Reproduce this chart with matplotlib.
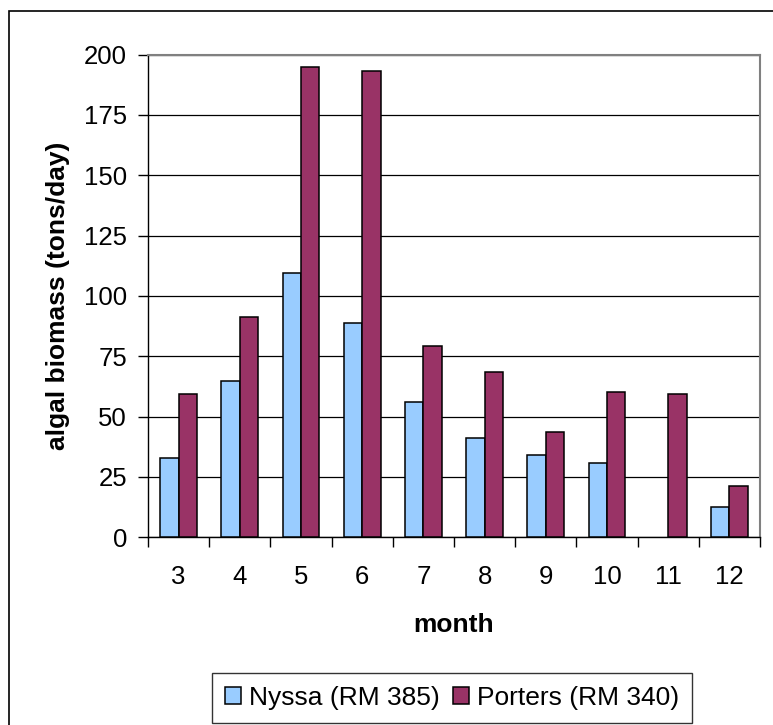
import matplotlib
matplotlib.use("Agg")
import matplotlib.pyplot as plt
import numpy as np
from matplotlib.patches import Rectangle
from matplotlib.ticker import FixedLocator, NullFormatter

plt.rcParams['font.family'] = ['Liberation Sans', 'DejaVu Sans']

months = ["3", "4", "5", "6", "7", "8", "9", "10", "11", "12"]
nyssa = [32.7, 64.7, 109.5, 88.8, 56.0, 41.0, 34.2, 30.8, None, 12.6]
porters = [59.5, 91.3, 194.7, 193.0, 79.2, 68.5, 43.7, 60.0, 59.3, 21.3]
series_names = ["Nyssa (RM 385)", "Porters (RM 340)"]
yticks = [0, 25, 50, 75, 100, 125, 150, 175, 200]

W, H = 773, 725
fig = plt.figure(figsize=(W / 100, H / 100), dpi=100)
fig.patch.set_facecolor("white")

left, right, top, bottom = 148, 760, 54.5, 537.3
ax = fig.add_axes([left / W, 1 - bottom / H, (right - left) / W, (bottom - top) / H])

x = np.arange(len(months))
nyssa_vals = np.array([np.nan if v is None else v for v in nyssa], dtype=float)
bw = 0.302
fs = 18.5
ax.bar(x - bw / 2, nyssa_vals, width=bw, color="#99CCFF", edgecolor="black", linewidth=1.1,
       label=series_names[0], zorder=3)
ax.bar(x + bw / 2, porters, width=bw, color="#993366", edgecolor="black", linewidth=1.1,
       label=series_names[1], zorder=3)

ax.set_xlim(-0.5, len(months) - 0.5)
ax.set_ylim(0, 200)
ax.set_yticks(yticks)
ax.set_yticklabels([str(v) for v in yticks], fontsize=fs)
ax.set_xticks(x)
ax.set_xticklabels(months, fontsize=fs)
ax.xaxis.set_minor_locator(FixedLocator(np.arange(-0.5, len(months), 1.0)))
ax.xaxis.set_minor_formatter(NullFormatter())
ax.tick_params(axis="x", which="major", length=0, pad=20)
ax.tick_params(axis="x", which="minor", length=7, width=1, color="black", direction="out")
ax.tick_params(axis="y", which="major", length=7, width=1, color="black", direction="out", pad=8)

ax.grid(axis="y", color="black", linewidth=0.9, zorder=0)
ax.set_axisbelow(True)
for s in ["top", "right"]:
    ax.spines[s].set_color("#808080")
    ax.spines[s].set_linewidth(1.5)
for s in ["left", "bottom"]:
    ax.spines[s].set_color("black")
    ax.spines[s].set_linewidth(1.0)

ax.set_xlabel("month", fontsize=fs + 0.5, fontweight="bold")
ax.xaxis.set_label_coords(0.5, (bottom - 625) / (bottom - top))
ax.xaxis.label.set_va("center")
ax.set_ylabel("algal biomass (tons/day)", fontsize=fs + 0.5, fontweight="bold")
ax.yaxis.set_label_coords((58 - left) / (right - left), 0.5)
ax.yaxis.label.set_va("center")

leg = fig.legend(loc="center", bbox_to_anchor=((212 + 692) / 2 / W, 1 - 698 / H), ncol=2,
                 fontsize=fs + 0.5, frameon=True, fancybox=False, edgecolor="black",
                 handlelength=0.6, handleheight=0.6, handletextpad=0.3,
                 columnspacing=0.5, borderpad=0.5, borderaxespad=0)
leg.get_frame().set_linewidth(1.0)

fig.add_artist(Rectangle((9 / W, -0.2), 1.2, 0.2 + (1 - 11 / H), transform=fig.transFigure,
                         fill=False, edgecolor="black", linewidth=1.2))

fig.savefig("out.png", dpi=100, facecolor="white")
